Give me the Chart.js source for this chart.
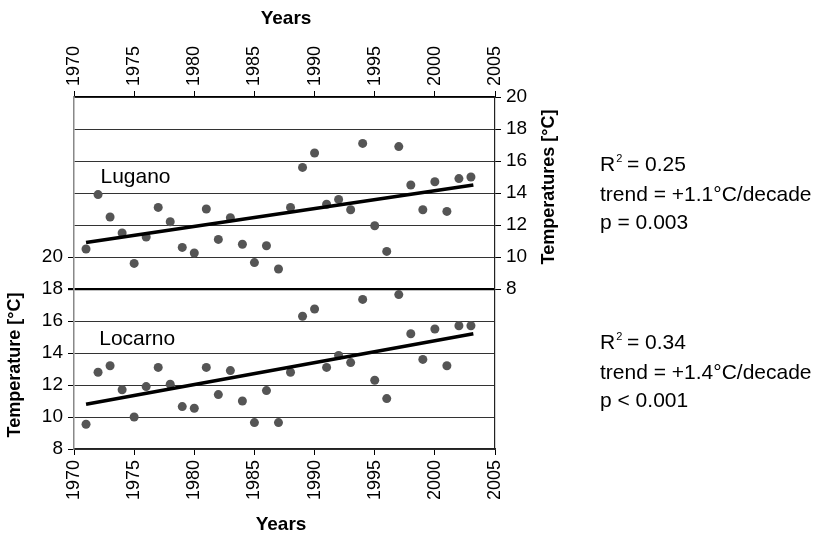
<!DOCTYPE html>
<html lang="en">
<head>
  <meta charset="UTF-8" />
  <title>Lugano / Locarno temperatures</title>
  <script src="https://cdn.jsdelivr.net/npm/chart.js"></script>
  <style>
    * { margin: 0; padding: 0; box-sizing: border-box; }
    body { background: #fff; width: 815px; height: 540px; overflow: hidden; }
    #wrap { width: 815px; height: 540px; }
  </style>
</head>
<body>
  <div id="wrap"><canvas id="chart" width="815" height="540"></canvas></div>

  <script>
    // years 1971..2003
    const years = [1971, 1972, 1973, 1974, 1975, 1976, 1977, 1978, 1979, 1980,
                   1981, 1982, 1983, 1984, 1985, 1986, 1987, 1988, 1989, 1990,
                   1991, 1992, 1993, 1994, 1995, 1996, 1997, 1998, 1999, 2000,
                   2001, 2002, 2003];

    // Lugano, read on the right axis
    const luganoTemps = [10.5, 13.9, 12.5, 11.5, 9.6, 11.25, 13.1, 12.2, 10.6, 10.25,
                         13.0, 11.1, 12.45, 10.8, 9.65, 10.7, 9.25, 13.1, 15.6, 16.5,
                         13.3, 13.6, 12.95, 17.1, 11.95, 10.35, 16.9, 14.5, 12.95, 14.7,
                         12.85, 14.9, 15.0];

    // Locarno, read on the left axis
    const locarnoTemps = [9.55, 12.8, 13.2, 11.7, 10.0, 11.9, 13.1, 12.05, 10.65, 10.55,
                          13.1, 11.4, 12.9, 11.0, 9.65, 11.65, 9.65, 12.8, 16.3, 16.75,
                          13.1, 13.85, 13.4, 17.35, 12.3, 11.15, 17.65, 15.2, 13.6, 15.5,
                          13.2, 15.7, 15.7];

    // trend lines (end points)
    const trendYears = [1971, 2003.2];
    const luganoTrend = [10.9, 14.5];
    const locarnoTrend = [10.8, 15.2];

    const yearTicks = [1970, 1975, 1980, 1985, 1990, 1995, 2000, 2005];

    const luganoStats = ['0.25', '+1.1°C/decade', 'p = 0.003'];
    const locarnoStats = ['0.34', '+1.4°C/decade', 'p < 0.001'];

    const FONT = "'Liberation Sans', Arial, Helvetica, sans-serif";

    function pts(xs, ys) {
      return xs.map((x, i) => ({ x: x, y: ys[i] }));
    }

    const textPlugin = {
      id: 'texts',
      afterDraw(chart) {
        const ctx = chart.ctx;
        const sx = chart.scales.x, yl = chart.scales.y, yr = chart.scales.y2;
        ctx.save();
        ctx.fillStyle = '#000';

        // axis titles
        ctx.font = 'bold 19px ' + FONT;
        ctx.textAlign = 'center';
        ctx.textBaseline = 'middle';
        ctx.fillText('Years', 286, 19);
        ctx.fillText('Years', 281, 525);

        ctx.font = 'bold 18px ' + FONT;
        ctx.save();
        ctx.translate(15, (yl.getPixelForValue(8) + yl.getPixelForValue(20)) / 2 + 12);
        ctx.rotate(-Math.PI / 2);
        ctx.fillText('Temperature [°C]', 0, 0);
        ctx.restore();

        ctx.save();
        ctx.translate(549, (yr.getPixelForValue(8) + yr.getPixelForValue(20)) / 2 - 6);
        ctx.rotate(-Math.PI / 2);
        ctx.fillText('Temperatures [°C]', 0, 0);
        ctx.restore();

        // station names
        ctx.font = '21px ' + FONT;
        ctx.textAlign = 'left';
        ctx.textBaseline = 'alphabetic';
        ctx.fillText('Lugano', sx.getPixelForValue(1972.2), 183);
        ctx.fillText('Locarno', sx.getPixelForValue(1972.1), 345);

        // statistics
        function stats(lines, y0) {
          ctx.font = '21px ' + FONT;
          ctx.fillText('R', 600, y0);
          const w = ctx.measureText('R').width;
          ctx.font = '11px ' + FONT;
          ctx.fillText('2', 600 + w + 1, y0 - 9);
          ctx.font = '21px ' + FONT;
          ctx.fillText(' = ' + lines[0], 600 + w + 6, y0);
          ctx.fillText('trend = ' + lines[1], 600, y0 + 30);
          ctx.fillText(lines[2], 600, y0 + 58);
        }
        stats(luganoStats, 171);
        stats(locarnoStats, 349);
        ctx.restore();
      }
    };

    const xTickFont = { family: FONT, size: 18 };
    const yTickFont = { family: FONT, size: 19 };

    const yearAxis = (pos) => ({
      type: 'linear',
      position: pos,
      min: 1970,
      max: 2005,
      afterBuildTicks: (s) => { s.ticks = yearTicks.map(v => ({ value: v })); },
      ticks: {
        color: '#000',
        font: xTickFont,
        minRotation: 90,
        maxRotation: 90,
        padding: 5,
        // Chart.js pushes rotated top labels one line to the left, put them back
        labelOffset: pos === 'top' ? 18 * 1.2 : 0,
        callback: (v) => String(v)
      },
      grid: { drawOnChartArea: false, tickLength: 6, tickColor: '#000', tickWidth: 1 },
      border: { color: pos === 'top' ? '#000' : '#222', width: 1.2 },
      afterFit: (s) => { s.height = pos === 'top' ? 97 : 91; }
    });

    new Chart(document.getElementById('chart'), {
      type: 'scatter',
      data: {
        datasets: [
          {
            label: 'Lugano trend',
            data: pts(trendYears, luganoTrend),
            yAxisID: 'y2',
            showLine: true,
            borderColor: '#000',
            borderWidth: 3.5,
            pointRadius: 0
          },
          {
            label: 'Locarno trend',
            data: pts(trendYears, locarnoTrend),
            yAxisID: 'y',
            showLine: true,
            borderColor: '#000',
            borderWidth: 3.5,
            pointRadius: 0
          },
          {
            label: 'Lugano',
            data: pts(years, luganoTemps),
            yAxisID: 'y2',
            backgroundColor: '#555',
            borderWidth: 0,
            pointRadius: 4.5
          },
          {
            label: 'Locarno',
            data: pts(years, locarnoTemps),
            yAxisID: 'y',
            backgroundColor: '#555',
            borderWidth: 0,
            pointRadius: 4.5
          }
        ]
      },
      options: {
        responsive: false,
        animation: false,
        devicePixelRatio: 1,
        layout: { padding: 0 },
        plugins: { legend: { display: false }, tooltip: { enabled: false } },
        scales: {
          x: yearAxis('bottom'),
          xTop: yearAxis('top'),
          y: {
            type: 'linear',
            position: 'left',
            min: 8,
            max: 30,
            ticks: {
              stepSize: 2,
              color: '#000',
              font: yTickFont,
              padding: 5,
              callback: (v) => (v <= 20 ? String(v) : '')
            },
            grid: {
              color: (c) => (c.tick && c.tick.value === 18 ? '#000' : '#333'),
              lineWidth: (c) => (c.tick && c.tick.value === 18 ? 2.2 : 1),
              tickColor: (c) => (c.tick && c.tick.value <= 20 ? '#000' : 'rgba(0,0,0,0)'),
              tickLength: 6
            },
            border: { color: '#888', width: 1.5 },
            afterFit: (s) => { s.width = 74; }
          },
          y2: {
            type: 'linear',
            position: 'right',
            min: -2,
            max: 20,
            ticks: {
              stepSize: 2,
              color: '#000',
              font: yTickFont,
              padding: 5,
              callback: (v) => (v >= 8 ? String(v) : '')
            },
            grid: {
              drawOnChartArea: false,
              tickColor: (c) => (c.tick && c.tick.value >= 8 ? '#000' : 'rgba(0,0,0,0)'),
              tickLength: 6
            },
            border: { color: '#222', width: 1.2 },
            afterFit: (s) => { s.width = 320; }
          }
        }
      },
      plugins: [textPlugin]
    });
  </script>
</body>
</html>
